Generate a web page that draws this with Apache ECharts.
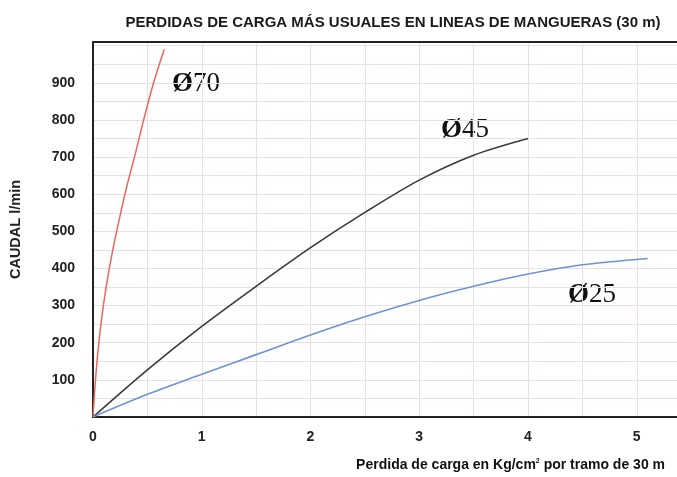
<!DOCTYPE html>
<html>
<head>
<meta charset="utf-8">
<script src="https://cdn.jsdelivr.net/npm/echarts@6/dist/echarts.min.js"></script>
<style>
  html, body { margin: 0; padding: 0; background: #fff; }
  #chart { width: 677px; height: 477px; }
</style>
</head>
<body>
<div id="chart"></div>
<script>
// Pérdida de carga (kg/cm²) vs caudal (l/min) por diámetro de manguera
const diam70 = [[0,0],[0.018,81],[0.044,172],[0.078,262],[0.122,352],[0.177,443],[0.242,533],[0.31,620],[0.39,710],[0.47,805],[0.56,903],[0.655,990]];
const diam45 = [[0,0],[0.5,127],[1,244],[1.5,352],[2,456],[2.5,551],[3,638],[3.5,705],[4,750]];
const diam25 = [[0,0],[0.5,61],[1,115],[1.5,168],[2,221],[2.5,270],[3,314],[3.5,352],[4,385],[4.5,410],[5.1,427]];
const xTicks = [0, 1, 2, 3, 4, 5];
const yTicks = [100, 200, 300, 400, 500, 600, 700, 800, 900];

const chart = echarts.init(document.getElementById('chart'));
const gridColor = '#ecdfe0';
const axisColor = '#222';
const sans = '"Liberation Sans", Arial, sans-serif';
const serifFont = '27px "Liberation Serif", "Times New Roman", serif';
const labelFont = { fontFamily: sans, fontWeight: 'bold', fontSize: 14, color: '#222' };

function tag(text, x, y) {
  return {
    type: 'text', x: x, y: y,
    style: {
      text: '{d|Ø}' + text, font: serifFont, fill: '#111',
      textVerticalAlign: 'middle', verticalAlign: 'middle',
      rich: { d: { font: 'bold ' + serifFont, fill: '#111' } }
    }
  };
}

chart.setOption({
  animation: false,
  title: {
    text: 'PERDIDAS DE CARGA MÁS USUALES EN LINEAS DE MANGUERAS (30 m)',
    left: 388, top: 10, textAlign: 'center',
    textStyle: { fontFamily: sans, fontWeight: 'bold', fontSize: 15, color: '#1a1a1a' }
  },
  grid: { left: 93, top: 42, right: 0, height: 375 },
  xAxis: [{
    type: 'value', min: 0, max: 5.37, interval: 0.5,
    axisLine: { show: true, onZero: false, lineStyle: { color: axisColor, width: 2 } },
    axisTick: { show: false },
    splitLine: { show: true, lineStyle: { color: gridColor, width: 1 } },
    axisLabel: Object.assign({}, labelFont, {
      margin: 13, showMaxLabel: false,
      formatter: v => (xTicks.indexOf(v) >= 0 ? String(v) : '')
    })
  }, {
    // top frame line
    type: 'value', position: 'top', min: 0, max: 5.37,
    axisLine: { show: true, onZero: false, lineStyle: { color: axisColor, width: 2 } },
    axisTick: { show: false }, axisLabel: { show: false }, splitLine: { show: false }
  }],
  yAxis: {
    type: 'value', min: 0, max: 1010, interval: 50,
    name: 'CAUDAL l/min', nameLocation: 'middle', nameGap: 70, nameRotate: 90,
    nameTextStyle: { fontFamily: sans, fontWeight: 'bold', fontSize: 14.5, color: '#222' },
    axisLine: { show: true, lineStyle: { color: axisColor, width: 2 } },
    axisTick: { show: false },
    splitLine: { show: true, lineStyle: { color: gridColor, width: 1 } },
    axisLabel: Object.assign({}, labelFont, {
      margin: 18, showMaxLabel: false,
      formatter: v => (yTicks.indexOf(v) >= 0 ? String(v) : '')
    })
  },
  series: [
    { name: 'Ø70', type: 'line', data: diam70, smooth: 0.3, showSymbol: false,
      lineStyle: { color: '#e9665f', width: 1.5 } },
    { name: 'Ø45', type: 'line', data: diam45, smooth: 0.3, showSymbol: false,
      lineStyle: { color: '#3a3a3a', width: 1.6 } },
    { name: 'Ø25', type: 'line', data: diam25, smooth: 0.3, showSymbol: false,
      lineStyle: { color: '#6d93d6', width: 1.6 } }
  ],
  graphic: [
    tag('70', 172, 84),
    tag('45', 441, 130),
    tag('25', 568, 295),
    { type: 'text', right: 12, top: 458, style: {
        text: 'Perdida de carga en Kg/cm{sup|2} por tramo de 30 m',
        font: 'bold 14px "Liberation Sans", Arial, sans-serif', fill: '#111',
        rich: { sup: { fontSize: 7, fontWeight: 'bold', verticalAlign: 'top', lineHeight: 8, padding: [0, 0, 10, 0] } }
      } }
  ]
});
</script>
</body>
</html>
